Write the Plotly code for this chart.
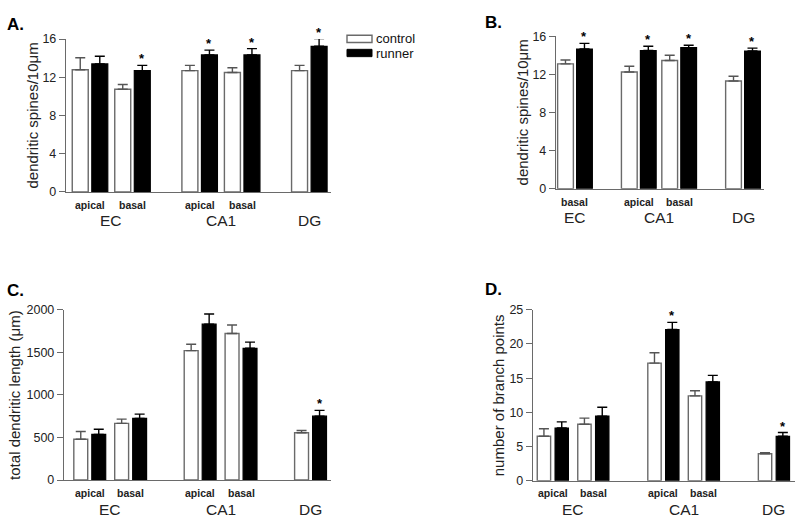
import plotly.graph_objects as go

W, H = 800, 526
FONT = "Liberation Sans, Arial, Helvetica, sans-serif"

# ---------------- data ----------------
# Panel A: dendritic spines / 10 um
A_regions = ["EC", "EC", "CA1", "CA1", "DG"]
A_sub = ["apical", "basal", "apical", "basal", ""]
A_control = [12.8, 10.75, 12.7, 12.5, 12.7]
A_control_err = [1.25, 0.5, 0.55, 0.5, 0.55]
A_runner = [13.4, 12.7, 14.35, 14.35, 15.25]
A_runner_err = [0.8, 0.55, 0.5, 0.65, 0.8]
A_sig = [False, True, True, True, True]
A_yticks = [0, 4, 8, 12, 16]

# Panel B: dendritic spines / 10 um
B_regions = ["EC", "CA1", "CA1", "DG"]
B_sub = ["basal", "apical", "basal", ""]
B_control = [13.1, 12.25, 13.45, 11.3]
B_control_err = [0.4, 0.6, 0.55, 0.5]
B_runner = [14.65, 14.5, 14.8, 14.45]
B_runner_err = [0.6, 0.45, 0.25, 0.3]
B_sig = [True, True, True, True]
B_yticks = [0, 4, 8, 12, 16]

# Panel C: total dendritic length (um)
C_regions = ["EC", "EC", "CA1", "CA1", "DG"]
C_sub = ["apical", "basal", "apical", "basal", ""]
C_control = [480, 665, 1520, 1720, 555]
C_control_err = [90, 50, 75, 100, 27]
C_runner = [537, 724, 1830, 1547, 750]
C_runner_err = [60, 50, 120, 72, 68]
C_sig = [False, False, False, False, True]
C_yticks = [0, 500, 1000, 1500, 2000]

# Panel D: number of branch points
D_regions = ["EC", "EC", "CA1", "CA1", "DG"]
D_sub = ["apical", "basal", "apical", "basal", ""]
D_control = [6.5, 8.25, 17.2, 12.4, 3.95]
D_control_err = [1.1, 0.9, 1.5, 0.75, 0.15]
D_runner = [7.7, 9.45, 22.1, 14.45, 6.5]
D_runner_err = [0.9, 1.3, 1.05, 0.95, 0.55]
D_sig = [False, False, True, False, True]
D_yticks = [0, 5, 10, 15, 20, 25]

# ---------------- layout of panels (pixels) ----------------
panels = [
    dict(key="A", regions=A_regions, sub=A_sub, ctl=A_control, ctl_e=A_control_err,
         run=A_runner, run_e=A_runner_err, sig=A_sig, yticks=A_yticks,
         title="dendritic spines/10μm", title_x=33, px=(66, 331), py=(33, 190),
         gap=1.58, xr=(-0.565, 5.67), off=0.23, bw=0.376,
         sub_y=203, reg_y=219, letter=(5, 18)),
    dict(key="B", regions=B_regions, sub=B_sub, ctl=B_control, ctl_e=B_control_err,
         run=B_runner, run_e=B_runner_err, sig=B_sig, yticks=B_yticks,
         title="dendritic spines/10μm", title_x=522, px=(556, 764), py=(30, 186.7),
         gap=1.58, xr=(-0.47, 4.68), off=0.235, bw=0.39,
         sub_y=200, reg_y=216, letter=(483, 16)),
    dict(key="C", regions=C_regions, sub=C_sub, ctl=C_control, ctl_e=C_control_err,
         run=C_runner, run_e=C_runner_err, sig=C_sig, yticks=C_yticks,
         title="total dendritic length (μm)", title_x=15, px=(64, 331), py=(311, 486),
         gap=1.70, xr=(-0.63, 5.9), off=0.22, bw=0.34,
         sub_y=499, reg_y=516, letter=(5, 291)),
    dict(key="D", regions=D_regions, sub=D_sub, ctl=D_control, ctl_e=D_control_err,
         run=D_runner, run_e=D_runner_err, sig=D_sig, yticks=D_yticks,
         title="number of branch points", title_x=498, px=(533, 795), py=(311, 486.7),
         gap=1.73, xr=(-0.49, 5.98), off=0.22, bw=0.33,
         sub_y=499, reg_y=516, letter=(483, 290)),
]

GREY = "#6a6a6a"


def positions(regions, gap):
    pos, p = [], 0.0
    for i, r in enumerate(regions):
        if i > 0:
            p += 1.0 if r == regions[i - 1] else gap
        pos.append(p)
    return pos


def fx(px):
    return px / W


def fy(py):
    return 1 - py / H


fig = go.Figure()
annotations = []
shapes = []
layout = {}

for i, P in enumerate(panels):
    n = i + 1
    xa = "x" if n == 1 else f"x{n}"
    ya = "y" if n == 1 else f"y{n}"
    xkey = "xaxis" if n == 1 else f"xaxis{n}"
    ykey = "yaxis" if n == 1 else f"yaxis{n}"
    pos = positions(P["regions"], P["gap"])
    xc = [p - P["off"] for p in pos]
    xr_ = [p + P["off"] for p in pos]
    yt = P["yticks"]

    fig.add_trace(go.Bar(
        x=xc, y=P["ctl"], width=P["bw"], name="control", showlegend=False,
        cliponaxis=False,
        marker=dict(color="white", line=dict(color=GREY, width=1.4)),
        error_y=dict(type="data", symmetric=False, array=P["ctl_e"],
                     arrayminus=[0] * len(pos), color="#555555", thickness=1.4, width=5),
        xaxis=xa, yaxis=ya))
    fig.add_trace(go.Bar(
        x=xr_, y=P["run"], width=P["bw"], name="runner", showlegend=False,
        cliponaxis=False,
        marker=dict(color="black", line=dict(color="black", width=1.2)),
        error_y=dict(type="data", symmetric=False, array=P["run_e"],
                     arrayminus=[0] * len(pos), color="black", thickness=1.4, width=5),
        xaxis=xa, yaxis=ya))

    layout[xkey] = dict(domain=[fx(P["px"][0]), fx(P["px"][1])], range=list(P["xr"]),
                        anchor=ya, showticklabels=False, ticks="", showgrid=False,
                        zeroline=False, showline=True, linecolor=GREY, linewidth=1.4,
                        fixedrange=True)
    layout[ykey] = dict(domain=[fy(P["py"][1]), fy(P["py"][0])], range=[yt[0], yt[-1]],
                        anchor=xa, tickvals=yt, ticks="outside", ticklen=6, tickwidth=1.4,
                        tickcolor=GREY, showgrid=False, zeroline=False, showline=True,
                        linecolor=GREY, linewidth=1.4,
                        tickfont=dict(size=12.5, color="#222", family=FONT),
                        fixedrange=True)

    # y-axis title
    annotations.append(dict(x=fx(P["title_x"]), y=fy((P["py"][0] + P["py"][1]) / 2),
                            xref="paper", yref="paper", text=P["title"], textangle=-90,
                            showarrow=False, xanchor="center", yanchor="middle",
                            font=dict(size=15, color="#222", family=FONT)))

    # significance stars (axis-domain reference so they may sit above the top tick)
    for p, v, e, s in zip(xr_, P["run"], P["run_e"], P["sig"]):
        if s:
            annotations.append(dict(x=p, y=(v + e - yt[0]) / (yt[-1] - yt[0]),
                                    xref=xa, yref=f"{ya} domain", text="<b>*</b>",
                                    showarrow=False, yanchor="bottom", yshift=-3,
                                    font=dict(size=13, color="black", family=FONT)))

    # sub-group labels
    for p, s in zip(pos, P["sub"]):
        if s:
            annotations.append(dict(x=p, y=fy(P["sub_y"]), xref=xa, yref="paper",
                                    text=f"<b>{s}</b>", showarrow=False,
                                    font=dict(size=10.5, color="#222", family=FONT),
                                    xanchor="center", yanchor="middle"))
    # region labels
    seen = []
    for r in P["regions"]:
        if r not in seen:
            seen.append(r)
    for r in seen:
        ps = [p for p, rr in zip(pos, P["regions"]) if rr == r]
        annotations.append(dict(x=sum(ps) / len(ps), y=fy(P["reg_y"]), xref=xa, yref="paper",
                                text=r, showarrow=False,
                                font=dict(size=15.5, color="#222", family=FONT),
                                xanchor="center", yanchor="middle"))
    # panel letter
    annotations.append(dict(x=fx(P["letter"][0]), y=fy(P["letter"][1]), xref="paper",
                            yref="paper", text=f"<b>{P['key']}.</b>", showarrow=False,
                            xanchor="left", yanchor="middle",
                            font=dict(size=17, color="black", family=FONT)))

# legend drawn as boxes + text
shapes.append(dict(type="rect", xref="paper", yref="paper", x0=fx(347), x1=fx(372),
                   y0=fy(36.5), y1=fy(29), fillcolor="white", line=dict(color=GREY, width=1.4)))
shapes.append(dict(type="rect", xref="paper", yref="paper", x0=fx(347), x1=fx(372),
                   y0=fy(51), y1=fy(43.5), fillcolor="black", line=dict(color="black", width=1)))
annotations.append(dict(x=fx(374), y=fy(32), xref="paper", yref="paper", text="control",
                        showarrow=False, xanchor="left", yanchor="middle",
                        font=dict(size=13, color="#111", family=FONT)))
annotations.append(dict(x=fx(374), y=fy(48), xref="paper", yref="paper", text="runner",
                        showarrow=False, xanchor="left", yanchor="middle",
                        font=dict(size=13, color="#111", family=FONT)))

fig.update_layout(width=W, height=H, autosize=False, margin=dict(l=0, r=0, t=0, b=0),
                  paper_bgcolor="white", plot_bgcolor="white", barmode="overlay",
                  showlegend=False, font=dict(family=FONT), annotations=annotations,
                  shapes=shapes, **layout)

fig.write_html("out.html", config={"displayModeBar": False},
               post_script="document.body.style.margin='0';document.body.style.padding='0';")
